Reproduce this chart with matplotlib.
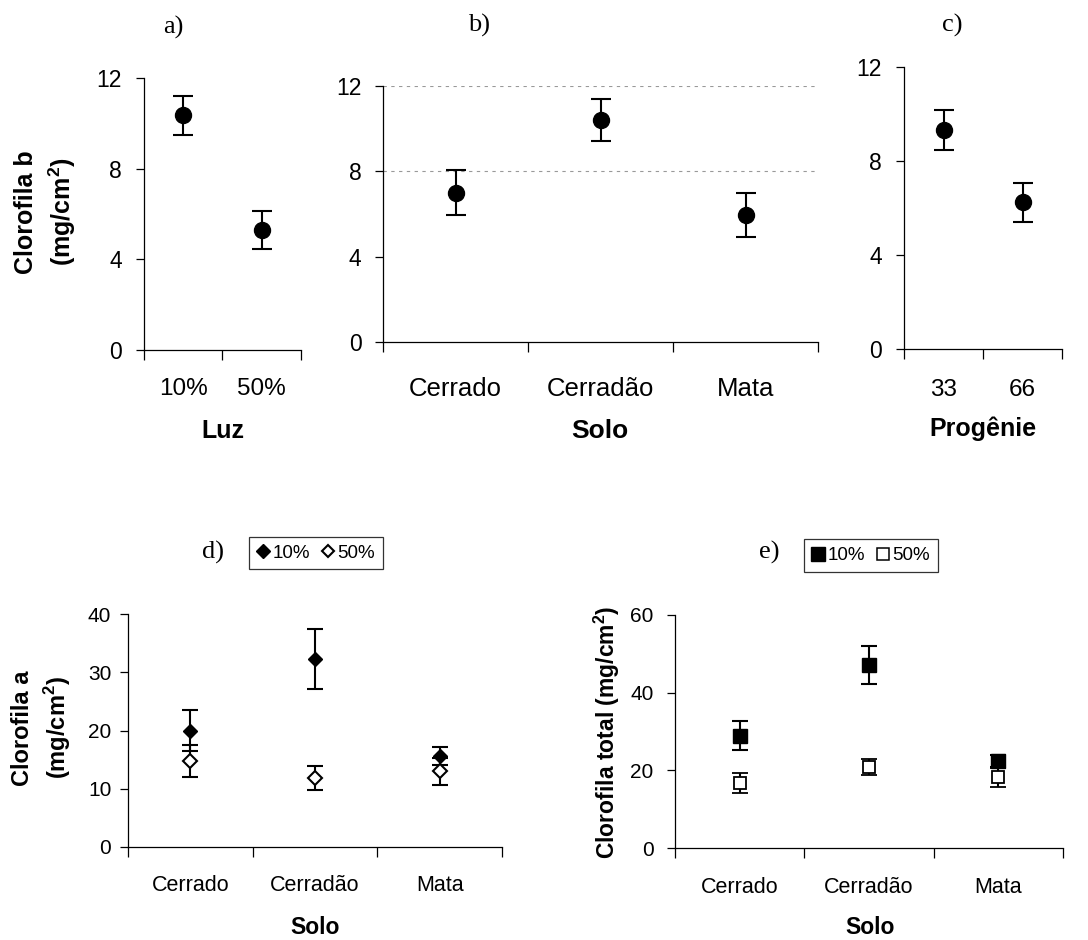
import numpy as np
import matplotlib
matplotlib.use("Agg")
import matplotlib.pyplot as plt
from matplotlib.lines import Line2D

plt.rcParams['font.family'] = ['Liberation Sans', 'DejaVu Sans']

# ---- data ----
luz_cats = ['10%', '50%']
luz_mean = [10.35, 5.3]
luz_err = [0.85, 0.85]

solo_cats = ['Cerrado', 'Cerradão', 'Mata']
solo_b_mean = [7.0, 10.4, 5.95]
solo_b_err = [1.05, 0.97, 1.05]

prog_cats = ['33', '66']
prog_mean = [9.3, 6.25]
prog_err = [0.85, 0.83]

cla_10 = [20.0, 32.3, 15.6]
cla_10_err = [3.6, 5.1, 1.5]
cla_50 = [14.8, 11.8, 13.0]
cla_50_err = [2.7, 2.1, 2.3]

clt_10 = [28.9, 47.2, 22.4]
clt_10_err = [3.7, 4.9, 1.5]
clt_50 = [16.8, 20.8, 18.2]
clt_50_err = [2.6, 2.0, 2.5]

W, H = 1088, 940
fig = plt.figure(figsize=(W / 100, H / 100), dpi=100)


def box(l, t, r, b):
    return [l / W, 1 - b / H, (r - l) / W, (b - t) / H]


def style(ax, cats, ymax, ystep, xpad, xsize, ypad, ysize):
    n = len(cats)
    ax.set_xlim(0, n)
    ax.set_ylim(0, ymax)
    ax.set_yticks(np.arange(0, ymax + 0.01, ystep))
    ax.set_xticks(np.arange(n + 1))
    ax.set_xticklabels([])
    ax.set_xticks(np.arange(n) + 0.5, minor=True)
    ax.set_xticklabels(cats, minor=True)
    ax.tick_params(axis='x', which='minor', length=0, pad=xpad, labelsize=xsize)
    ax.tick_params(axis='x', which='major', length=7, width=0.9, direction='out')
    ax.tick_params(axis='y', length=6, width=0.9, direction='out', pad=ypad, labelsize=ysize)
    for s in ['top', 'right']:
        ax.spines[s].set_visible(False)
    for s in ['left', 'bottom']:
        ax.spines[s].set_linewidth(0.9)
    ax.patch.set_alpha(0)


ekw = dict(color='black', ecolor='black', elinewidth=1.5, capthick=1.5, linestyle='none')

# a)
axa = fig.add_axes(box(144, 78, 301, 350))
style(axa, luz_cats, 12, 4, 20, 17.5, 10, 16.5)
axa.errorbar(np.arange(2) + 0.5, luz_mean, yerr=luz_err, marker='o', markersize=11.5,
             capsize=7, **ekw)

# b)
axb = fig.add_axes(box(383, 86, 818, 342))
style(axb, solo_cats, 12, 4, 25.5, 18.5, 9.5, 16.5)
for yv in [8, 12]:
    axb.axhline(yv, color='#999999', lw=0.8, ls=(0, (3, 4)), zorder=0)
axb.errorbar(np.arange(3) + 0.5, solo_b_mean, yerr=solo_b_err, marker='o', markersize=11.5,
             capsize=7, **ekw)

# c)
axc = fig.add_axes(box(904, 67, 1062, 349))
style(axc, prog_cats, 12, 4, 21.5, 17.5, 10, 16.5)
axc.errorbar(np.arange(2) + 0.5, prog_mean, yerr=prog_err, marker='o', markersize=11.5,
             capsize=7, **ekw)

# d)
axd = fig.add_axes(box(128, 614, 502, 847))
style(axd, solo_cats, 40, 10, 20, 15.5, 6, 15)
xd = np.arange(3) + 0.5
axd.errorbar(xd, cla_10, yerr=cla_10_err, marker='D', markersize=7.5, capsize=6, **ekw)
axd.errorbar(xd, cla_50, yerr=cla_50_err, marker='D', markersize=7.5, capsize=6,
             markerfacecolor='white', markeredgewidth=1.5, **ekw)

# e)
axe = fig.add_axes(box(675, 615, 1063, 848))
style(axe, solo_cats, 60, 20, 21, 15.5, 9.5, 15)
axe.errorbar(xd, clt_10, yerr=clt_10_err, marker='s', markersize=9.5, capsize=6, **ekw)
axe.errorbar(xd, clt_50, yerr=clt_50_err, marker='s', markersize=8, capsize=6,
             markerfacecolor='white', markeredgewidth=1.3, **ekw)

# panel labels
for txt, x, y in [('a)', 173, 27), ('b)', 479, 25), ('c)', 952, 25), ('d)', 213, 552), ('e)', 769, 552)]:
    fig.text(x / W, 1 - y / H, txt, family='Liberation Serif', fontsize=19,
             ha='center', va='center')

# axis labels
lab = dict(fontweight='bold', ha='center', va='center')
fig.text(46 / W, 1 - 212 / H, 'Clorofila b\n(mg/cm$^\\mathregular{2}$)', rotation=90,
         multialignment='center', linespacing=1.35, fontsize=18, **lab)
fig.text(223 / W, 1 - 431 / H, 'Luz', fontsize=18, **lab)
fig.text(600 / W, 1 - 431 / H, 'Solo', fontsize=19, **lab)
fig.text(983 / W, 1 - 429 / H, 'Progênie', fontsize=18, **lab)
fig.text(42 / W, 1 - 728 / H, 'Clorofila a\n(mg/cm$^\\mathregular{2}$)', rotation=90,
         multialignment='center', linespacing=1.3, fontsize=17, **lab)
fig.text(315 / W, 1 - 927 / H, 'Solo', fontsize=16.5, **lab)
fig.text(607 / W, 1 - 732 / H, 'Clorofila total (mg/cm$^\\mathregular{2}$)', rotation=90,
         fontsize=16.5, **lab)
fig.text(870 / W, 1 - 928 / H, 'Solo', fontsize=16.5, **lab)

# legends
legkw = dict(loc='center', ncol=2, fontsize=13.5, frameon=True, fancybox=False,
             edgecolor='black', handlelength=0.7, handletextpad=0.15, columnspacing=0.6,
             borderpad=0.4, borderaxespad=0)
hd = [Line2D([], [], marker='D', color='black', markersize=7.5, ls='none'),
      Line2D([], [], marker='D', color='black', markerfacecolor='white', markersize=6.5,
             markeredgewidth=1.5, ls='none')]
ld = fig.legend(hd, ['10%', '50%'], bbox_to_anchor=(316 / W, 1 - 553 / H), **legkw)
ld.get_frame().set_linewidth(0.9)
he = [Line2D([], [], marker='s', color='black', markersize=10, ls='none'),
      Line2D([], [], marker='s', color='black', markerfacecolor='white', markersize=8.5,
             markeredgewidth=1.1, ls='none')]
le = fig.legend(he, ['10%', '50%'], bbox_to_anchor=(871 / W, 1 - 555.5 / H), **legkw)
le.get_frame().set_linewidth(0.9)

fig.savefig('out.png', dpi=100)
